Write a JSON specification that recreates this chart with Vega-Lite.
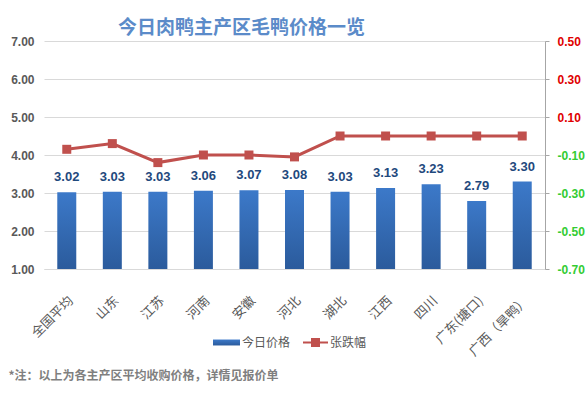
{
  "$schema": "https://vega.github.io/schema/vega-lite/v6.json",
  "width": 501,
  "height": 228,
  "autosize": "none",
  "padding": {"left": 44, "top": 41, "right": 40, "bottom": 124},
  "background": "white",
  "title": {
    "text": "今日肉鸭主产区毛鸭价格一览",
    "font": "Noto Sans CJK SC",
    "fontSize": 19,
    "fontWeight": "bold",
    "color": "#5b8bc9",
    "anchor": "middle",
    "dx": -53,
    "offset": -3
  },
  "config": {
    "view": {"stroke": null},
    "axis": {"labelFont": "Liberation Sans", "titleFont": "Noto Sans CJK SC"}
  },
  "data": {
    "values": [
      {"region": "全国平均", "price": 3.02, "change": -0.07},
      {"region": "山东", "price": 3.03, "change": -0.04},
      {"region": "江苏", "price": 3.03, "change": -0.14},
      {"region": "河南", "price": 3.06, "change": -0.10},
      {"region": "安徽", "price": 3.07, "change": -0.10},
      {"region": "河北", "price": 3.08, "change": -0.11},
      {"region": "湖北", "price": 3.03, "change": 0.00},
      {"region": "江西", "price": 3.13, "change": 0.00},
      {"region": "四川", "price": 3.23, "change": 0.00},
      {"region": "广东(塘口)", "price": 2.79, "change": 0.00},
      {"region": "广西（旱鸭）", "price": 3.30, "change": 0.00}
    ]
  },
  "encoding": {
    "x": {
      "field": "region",
      "type": "nominal",
      "sort": null,
      "scale": {"paddingInner": 0, "paddingOuter": 0},
      "axis": {
        "title": "*注：以上为各主产区平均收购价格，详情见报价单",
        "titleX": -36,
        "titleY": 106,
        "titleAlign": "left",
        "titleBaseline": "middle",
        "titleFontSize": 12,
        "titleFontWeight": "bold",
        "titleColor": "#7f7f7f",
        "labelAngle": -45,
        "labelFont": "Noto Sans CJK SC",
        "labelFontSize": 13,
        "labelColor": "#595959",
        "labelPadding": 25,
        "labelOverlap": false,
        "ticks": false,
        "domain": true,
        "domainColor": "#d9d9d9",
        "grid": false
      }
    }
  },
  "layer": [
    {
      "layer": [
        {
          "mark": {
            "type": "bar",
            "size": 19,
            "color": {
              "gradient": "linear",
              "x1": 0, "y1": 0, "x2": 0, "y2": 1,
              "stops": [
                {"offset": 0, "color": "#3c79c9"},
                {"offset": 1, "color": "#2b5b9c"}
              ]
            }
          },
          "encoding": {
            "y": {
              "field": "price",
              "type": "quantitative",
              "scale": {"domain": [1, 7], "nice": false, "zero": false},
              "axis": {
                "title": null,
                "values": [1, 2, 3, 4, 5, 6, 7],
                "tickCount": 12,
                "format": ".2f",
                "labelOverlap": false,
                "domain": false,
                "ticks": false,
                "grid": true,
                "gridColor": "#d9d9d9",
                "labelColor": "#595959",
                "labelFontSize": 12,
                "labelFontWeight": "bold",
                "labelPadding": 10
              }
            },
            "y2": {"datum": 1},
            "opacity": {
              "datum": "今日价格",
              "type": "nominal",
              "scale": {"domain": ["今日价格"], "range": [1]},
              "legend": {
                "title": null,
                "orient": "none",
                "legendX": 168,
                "legendY": 287,
                "padding": 0,
                "symbolType": "M-1,-0.22H1V0.22H-1Z",
                "symbolSize": 729,
                "labelFont": "Noto Sans CJK SC",
                "labelFontSize": 12,
                "labelColor": "#595959",
                "labelOffset": 1,
                "encode": {
                  "symbols": {
                    "update": {
                      "fill": {"value": "#3468b0"},
                      "stroke": {"value": "#3468b0"},
                      "strokeWidth": {"value": 0},
                      "opacity": {"value": 1}
                    }
                  }
                }
              }
            }
          }
        },
        {
          "mark": {
            "type": "text",
            "dy": -15,
            "baseline": "middle",
            "font": "Liberation Sans",
            "fontSize": 13,
            "fontWeight": "bold",
            "color": "#1f497d"
          },
          "encoding": {
            "y": {"field": "price", "type": "quantitative"},
            "text": {"field": "price", "type": "quantitative", "format": ".2f"}
          }
        }
      ]
    },
    {
      "layer": [
        {
          "mark": {"type": "line", "strokeWidth": 3},
          "encoding": {
            "y": {
              "field": "change",
              "type": "quantitative",
              "scale": {"domain": [-0.7, 0.5], "nice": false, "zero": false},
              "axis": {
                "orient": "right",
                "title": null,
                "values": [-0.7, -0.5, -0.3, -0.1, 0.1, 0.3, 0.5],
                "tickCount": 12,
                "labelExpr": "replace(format(datum.value, '.2f'), '−', '-')",
                "labelOverlap": false,
                "grid": false,
                "domain": true,
                "domainColor": "#a6a6a6",
                "ticks": true,
                "tickColor": "#a6a6a6",
                "tickSize": 4,
                "labelFontSize": 12,
                "labelFontWeight": "bold",
                "labelPadding": 8,
                "labelColor": {"condition": {"test": "datum.value < 0", "value": "#33cc33"}, "value": "#e00000"}
              }
            },
            "stroke": {
              "datum": "张跌幅",
              "type": "nominal",
              "scale": {"domain": ["张跌幅"], "range": ["#c0504d"]},
              "legend": {
                "title": null,
                "orient": "none",
                "legendX": 258,
                "legendY": 288,
                "padding": 0,
                "symbolType": "M-1,0H1M-0.28,-0.28H0.28V0.28H-0.28Z",
                "symbolSize": 625,
                "labelFont": "Noto Sans CJK SC",
                "labelFontSize": 12,
                "labelColor": "#595959",
                "labelOffset": 1,
                "encode": {
                  "symbols": {
                    "update": {
                      "fill": {"value": "#c0504d"},
                      "stroke": {"value": "#c0504d"},
                      "strokeWidth": {"value": 2}
                    }
                  }
                }
              }
            }
          }
        },
        {
          "mark": {"type": "point", "shape": "square", "filled": true, "size": 81, "color": "#c0504d", "opacity": 1},
          "encoding": {
            "y": {"field": "change", "type": "quantitative"}
          }
        }
      ]
    }
  ],
  "resolve": {"scale": {"y": "independent"}}
}
